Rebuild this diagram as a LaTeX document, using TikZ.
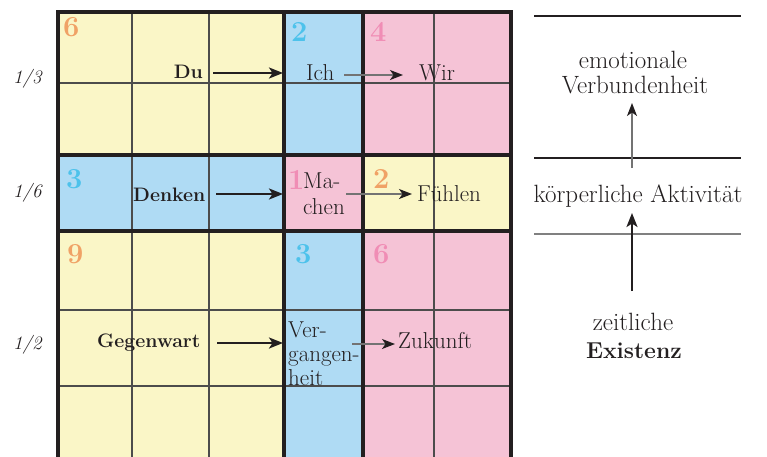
\documentclass[tikz,border=0pt]{standalone}
\usetikzlibrary{arrows.meta}
\definecolor{cyel}{HTML}{FAF6C7}
\definecolor{cblu}{HTML}{AFDBF4}
\definecolor{cpnk}{HTML}{F5C3D6}
\definecolor{nor}{HTML}{F0A266}
\definecolor{nbl}{HTML}{4DC2EB}
\definecolor{npk}{HTML}{F08DB5}
\definecolor{ink}{HTML}{231F20}
\begin{document}
\begin{tikzpicture}[x=1pt,y=-1pt,
  txt/.style={inner sep=0,anchor=base west,text=ink,font=\fontsize{23}{26}\selectfont},
  bld/.style={inner sep=0,anchor=base west,text=ink,font=\fontsize{19.5}{24}\selectfont\bfseries},
  num/.style={inner sep=0,anchor=base west,font=\fontsize{29}{30}\selectfont\bfseries},
  frac/.style={inner sep=0,anchor=base west,text=ink,font=\fontsize{19}{22}\selectfont\itshape},
  rtxt/.style={inner sep=0,anchor=base,text=ink,font=\fontsize{25}{28}\selectfont},
  rbld/.style={inner sep=0,anchor=base,text=ink,font=\fontsize{23}{28}\selectfont\bfseries},
  boldarr/.style={draw=ink,line width=2.4pt,-{Stealth[length=14pt,width=11pt,inset=3.5pt]}},
  thinarr/.style={draw=black!55,line width=1.3pt,-{Stealth[length=13pt,width=10pt,inset=3.5pt,color=ink]}},
  gridthin/.style={draw=black!70,line width=1.2pt},
  gridthick/.style={draw=ink,line width=3.6pt},
  rule/.style={draw=ink,line width=1.1pt},
]
\useasboundingbox (0,0) rectangle (767,456);
\clip (0,0) rectangle (767,456);
% fills
\fill[cyel] (58,12) rectangle (284,155);
\fill[cblu] (284,12) rectangle (363,155);
\fill[cpnk] (363,12) rectangle (511,155);
\fill[cblu] (58,155) rectangle (284,231);
\fill[cpnk] (284,155) rectangle (363,231);
\fill[cyel] (363,155) rectangle (511,231);
\fill[cyel] (58,231) rectangle (284,470);
\fill[cblu] (284,231) rectangle (363,470);
\fill[cpnk] (363,231) rectangle (511,470);
% thin grid
\foreach \x in {132,209,434} \draw[gridthin] (\x,12) -- (\x,470);
\foreach \y in {83,310,386} \draw[gridthin] (58,\y) -- (511,\y);
% thick grid
\draw[gridthick] (58,12) rectangle (511,480);
\foreach \x in {284,363} \draw[gridthick] (\x,12) -- (\x,470);
\foreach \y in {155,231} \draw[gridthick] (58,\y) -- (511,\y);
% numbers
\node[num,text=nor] (n6a) at (63,36) {6};
\node[num,text=nbl] (n2a) at (291,41) {2};
\node[num,text=npk] (n4a) at (370,41) {4};
\node[num,text=nbl] (n3a) at (66,188) {3};
\node[num,text=npk] (n1a) at (288,189) {1};
\node[num,text=nor] (n2b) at (373,188) {2};
\node[num,text=nor] (n9a) at (67,263) {9};
\node[num,text=nbl] (n3b) at (295,263) {3};
\node[num,text=npk] (n6b) at (373,263) {6};
% fractions
\node[frac] (f13) at (13,83) {1/3};
\node[frac] (f16) at (13,197) {1/6};
\node[frac] (f12) at (13,349) {1/2};
% top row
\node[bld,anchor=base east] (du) at (203,78) {Du};
\coordinate (dustart) at (213,73);
\coordinate (duend) at (283,73);
\draw[boldarr] (dustart) -- (duend);
\node[txt] (ich) at (306,80) {Ich};
\node[txt] (wir) at (419,80) {Wir};
\coordinate (ichs) at (344,75);
\coordinate (iche) at (403,75);
\draw[thinarr] (ichs) -- (iche);
% middle row
\node[bld] (denken) at (133,201) {Denken};
\coordinate (denkens) at (216,194);
\coordinate (denkene) at (283,194);
\draw[boldarr] (denkens) -- (denkene);
\node[txt] (ma) at (303,188) {Ma-};
\node[txt] (chen) at (303,214) {chen};
\node[txt] (fuehlen) at (417,201) {F\"uhlen};
\coordinate (machs) at (346,194);
\coordinate (mache) at (412,194);
\draw[thinarr] (machs) -- (mache);
% bottom row
\node[bld] (gegen) at (97,347) {Gegenwart};
\coordinate (gegens) at (217,343);
\coordinate (gegene) at (283,343);
\draw[boldarr] (gegens) -- (gegene);
\node[txt] (ver) at (288,337) {Ver-};
\node[txt] (gangen) at (288,361) {gangen-};
\node[txt] (heit) at (288,385) {heit};
\node[txt] (zuk) at (398,348) {Zukunft};
\coordinate (vers) at (352,344);
\coordinate (vere) at (395,344);
\draw[thinarr] (vers) -- (vere);
% right side
\draw[rule] (534,16) coordinate (r1a) -- (741,16) coordinate (r1b);
\draw[rule] (534,158) coordinate (r2a) -- (741,158) coordinate (r2b);
\draw[rule,draw=black!50] (534,234) coordinate (r3a) -- (741,234) coordinate (r3b);
\node[rtxt] (emo) at (633,68) {emotionale};
\node[rtxt] (verb) at (635,93) {Verbundenheit};
\node[rtxt] (koerp) at (638,202) {k\"orperliche Aktivit\"at};
\node[rtxt] (zeit) at (633,330) {zeitliche};
\node[rbld] (exist) at (634,358) {Existenz};
\coordinate (a1s) at (632,168);
\coordinate (a1e) at (632,103);
\draw[thinarr] (a1s) -- (a1e);
\coordinate (a2s) at (632,291);
\coordinate (a2e) at (632,213);
\draw[boldarr] (a2s) -- (a2e);
\end{tikzpicture}
\end{document}
